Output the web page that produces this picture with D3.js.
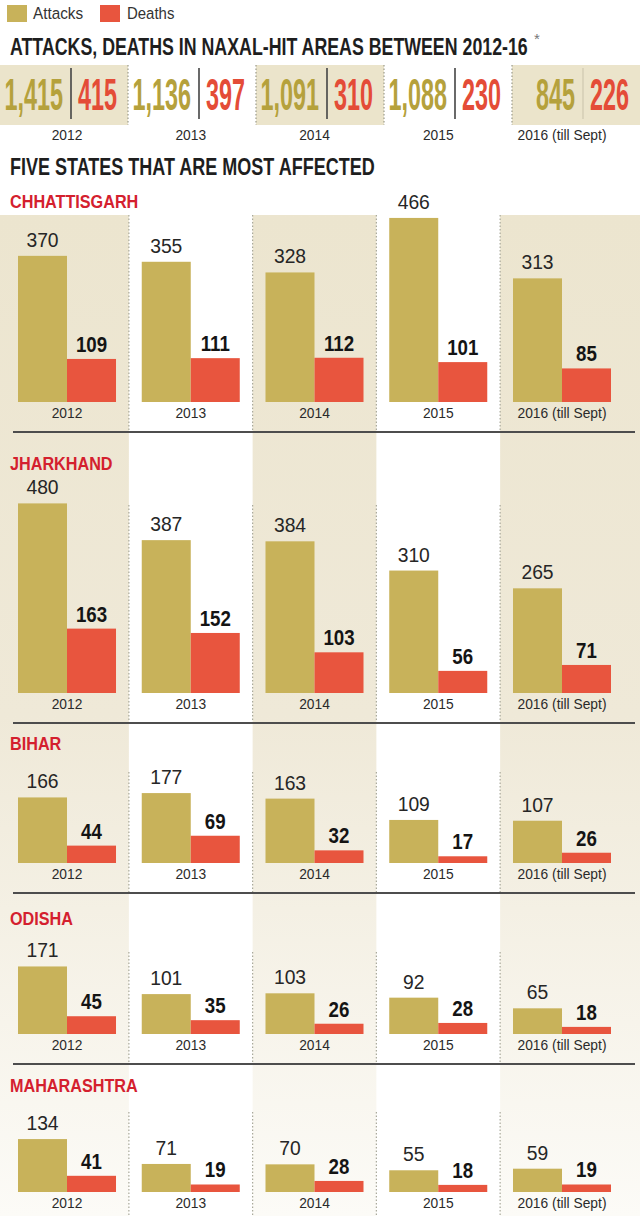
<!DOCTYPE html>
<html>
<head>
<meta charset="utf-8">
<script src="https://cdn.jsdelivr.net/npm/d3@7"></script>
<style>
  body { margin: 0; background: #fff; }
</style>
</head>
<body>
<div id="chart"></div>
<script>
const years        = ["2012", "2013", "2014", "2015", "2016 (till Sept)"];
const totalAttacks = [1415, 1136, 1091, 1088, 845];
const totalDeaths  = [415, 397, 310, 230, 226];

const states       = ["CHHATTISGARH", "JHARKHAND", "BIHAR", "ODISHA", "MAHARASHTRA"];
const chhAttacks   = [370, 355, 328, 466, 313];
const chhDeaths    = [109, 111, 112, 101, 85];
const jhaAttacks   = [480, 387, 384, 310, 265];
const jhaDeaths    = [163, 152, 103, 56, 71];
const bihAttacks   = [166, 177, 163, 109, 107];
const bihDeaths    = [44, 69, 32, 17, 26];
const odiAttacks   = [171, 101, 103, 92, 65];
const odiDeaths    = [45, 35, 26, 28, 18];
const mahAttacks   = [134, 71, 70, 55, 59];
const mahDeaths    = [41, 19, 28, 18, 19];

const stateAttacks = [chhAttacks, jhaAttacks, bihAttacks, odiAttacks, mahAttacks];
const stateDeaths  = [chhDeaths, jhaDeaths, bihDeaths, odiDeaths, mahDeaths];

const W = 640, H = 1216;
const FONT = "'Liberation Sans', Arial, sans-serif";
const GOLD = "#c8b25a", RED = "#e8553e";
const GOLD_TXT = "#b5a13c", RED_TXT = "#e44c37", STATE_RED = "#d4202e";

// panel layout: label baseline, bar baseline, top of dotted separators
const labelY = [208, 470, 750, 925, 1092];
const baseY  = [402, 693, 863, 1034, 1192];
const dotTop = [215, 505, 772, 952, 1112];

const svg = d3.select("#chart").append("svg")
    .attr("width", W)
    .attr("height", H);

const defs = svg.append("defs");
const fade = defs.append("linearGradient")
    .attr("id", "fade")
    .attr("gradientUnits", "userSpaceOnUse")
    .attr("x1", 0).attr("x2", 0).attr("y1", 215).attr("y2", H);
fade.append("stop").attr("offset", "0%").attr("stop-color", "#ece5cf");
fade.append("stop").attr("offset", "50%").attr("stop-color", "#efe9d8");
fade.append("stop").attr("offset", "100%").attr("stop-color", "#fcfbf7");

// small helper, text squeezed horizontally to fake a condensed face
function txt(parent, x, y, str, o) {
    return parent.append("text")
        .attr("transform", "translate(" + x + "," + y + ") scale(" + (o.sx || 1) + ",1)")
        .attr("text-anchor", o.anchor || "start")
        .attr("font-family", FONT)
        .attr("font-size", o.size)
        .attr("font-weight", o.weight || 400)
        .attr("fill", o.fill || "#222")
        .text(str);
}

// heading squeezed to a given width
function heading(x, y, str, size, width) {
    const t = txt(svg, x, y, str, { size: size, weight: 700, fill: "#1e1e1e" });
    const natural = t.node().getComputedTextLength();
    t.attr("transform", "translate(" + x + "," + y + ") scale(" + (width / natural) + ",1)");
    return t;
}

// scales
const xGroup = d3.scaleBand().domain(years).range([18, 611]).paddingInner(0.208);
const xBar   = d3.scaleBand().domain(["attacks", "deaths"]).range([0, xGroup.bandwidth()]);
const hVal   = d3.scaleLinear().domain([0, 500]).range([0, 197.5]);
const xSum   = d3.scaleBand().domain(years).range([0, W]);
const fmt    = d3.format(",");

const gap = xGroup.step() - xGroup.bandwidth();
function colEdge(i) {
    if (i <= 0) return 0;
    if (i >= years.length) return W;
    return xGroup(years[i]) - gap / 2;
}

// ---------- background column bands ----------
svg.append("g").selectAll("rect")
    .data([0, 2, 4]).enter()
    .append("rect")
        .attr("x", (i) => colEdge(i))
        .attr("y", 215)
        .attr("width", (i) => colEdge(i + 1) - colEdge(i))
        .attr("height", H - 215)
        .attr("fill", "url(#fade)");

// ---------- legend ----------
const legend = svg.append("g");
legend.append("rect").attr("x", 7).attr("y", 5).attr("width", 20).attr("height", 17).attr("fill", GOLD);
txt(legend, 33, 19, "Attacks", { size: 17, sx: 0.9, fill: "#333" });
legend.append("rect").attr("x", 100).attr("y", 5).attr("width", 20).attr("height", 17).attr("fill", RED);
txt(legend, 127, 19, "Deaths", { size: 17, sx: 0.88, fill: "#333" });

// ---------- title ----------
heading(10, 55, "ATTACKS, DEATHS IN NAXAL-HIT AREAS BETWEEN 2012-16", 24, 518);
txt(svg, 534, 44, "*", { size: 15, fill: "#777" });

// ---------- totals row ----------
const sumRow = svg.append("g");
sumRow.selectAll("rect")
    .data(years.filter((d, i) => i % 2 === 0)).enter()
    .append("rect")
        .attr("x", (d) => xSum(d))
        .attr("y", 65)
        .attr("width", xSum.bandwidth())
        .attr("height", 60)
        .attr("fill", "#ebe4cb");

sumRow.selectAll("line.sep")
    .data(years.slice(1)).enter()
    .append("line")
        .attr("class", "sep")
        .attr("x1", (d) => xSum(d)).attr("x2", (d) => xSum(d))
        .attr("y1", 65).attr("y2", 125)
        .attr("stroke", "#9a9a8a").attr("stroke-width", 1.2)
        .attr("stroke-dasharray", "1.5,2");

years.forEach((yr, i) => {
    const div = xSum(yr) + xSum.bandwidth() / 2 + 7;
    sumRow.append("line")
        .attr("x1", div).attr("x2", div)
        .attr("y1", 68).attr("y2", 119)
        .attr("stroke", i === 4 ? "#d6cfb6" : "#444")
        .attr("stroke-width", 1.6);
    txt(sumRow, div - 8, 110, fmt(totalAttacks[i]), { size: 45, weight: 700, sx: 0.52, anchor: "end", fill: GOLD_TXT });
    txt(sumRow, div + 7, 110, fmt(totalDeaths[i]), { size: 45, weight: 700, sx: 0.52, fill: RED_TXT });
    txt(sumRow, xGroup(yr) + xGroup.bandwidth() / 2, 140, yr, { size: 15, sx: 0.92, anchor: "middle", fill: "#2a2a2a" });
});

// ---------- sub heading ----------
heading(10, 175, "FIVE STATES THAT ARE MOST AFFECTED", 23, 365);

// ---------- state panels ----------
states.forEach((st, p) => {
    const g = svg.append("g").attr("class", "panel");
    const base = baseY[p];
    const bottom = p < states.length - 1 ? base + 30 : H;

    // dotted column separators
    g.selectAll("line.sep")
        .data([1, 2, 3, 4]).enter()
        .append("line")
            .attr("class", "sep")
            .attr("x1", (i) => colEdge(i)).attr("x2", (i) => colEdge(i))
            .attr("y1", dotTop[p]).attr("y2", bottom)
            .attr("stroke", "#a8a89a").attr("stroke-width", 1.2)
            .attr("stroke-dasharray", "1.5,2");

    txt(g, 10, labelY[p], st, { size: 18, weight: 700, sx: 0.9, fill: STATE_RED });

    const rows = years.map((yr, i) => ({ year: yr, attacks: stateAttacks[p][i], deaths: stateDeaths[p][i] }));

    const grp = g.selectAll("g.year")
        .data(rows).enter()
        .append("g")
            .attr("class", "year")
            .attr("transform", (d) => "translate(" + xGroup(d.year) + ",0)");

    grp.append("rect")
        .attr("x", xBar("attacks"))
        .attr("y", (d) => base - hVal(d.attacks))
        .attr("width", xBar.bandwidth())
        .attr("height", (d) => hVal(d.attacks))
        .attr("fill", GOLD);

    grp.append("rect")
        .attr("x", xBar("deaths"))
        .attr("y", (d) => base - hVal(d.deaths))
        .attr("width", xBar.bandwidth())
        .attr("height", (d) => hVal(d.deaths))
        .attr("fill", RED);

    grp.append("text")
        .attr("transform", (d) => "translate(" + (xBar("attacks") + xBar.bandwidth() / 2) + "," + (base - hVal(d.attacks) - 9) + ") scale(0.92,1)")
        .attr("text-anchor", "middle")
        .attr("font-family", FONT).attr("font-size", 21)
        .attr("fill", "#262626")
        .text((d) => d.attacks);

    grp.append("text")
        .attr("transform", (d) => "translate(" + (xBar("deaths") + xBar.bandwidth() / 2) + "," + (base - hVal(d.deaths) - 7) + ") scale(0.85,1)")
        .attr("text-anchor", "middle")
        .attr("font-family", FONT).attr("font-size", 22).attr("font-weight", 700)
        .attr("fill", "#141414")
        .text((d) => d.deaths);

    grp.append("text")
        .attr("transform", "translate(" + (xGroup.bandwidth() / 2) + "," + (base + 16) + ") scale(0.92,1)")
        .attr("text-anchor", "middle")
        .attr("font-family", FONT).attr("font-size", 15)
        .attr("fill", "#2a2a2a")
        .text((d) => d.year);

    if (p < states.length - 1) {
        g.append("line")
            .attr("x1", 13).attr("x2", 635)
            .attr("y1", base + 30).attr("y2", base + 30)
            .attr("stroke", "#4d4d4d").attr("stroke-width", 2);
    }
});
</script>
</body>
</html>
